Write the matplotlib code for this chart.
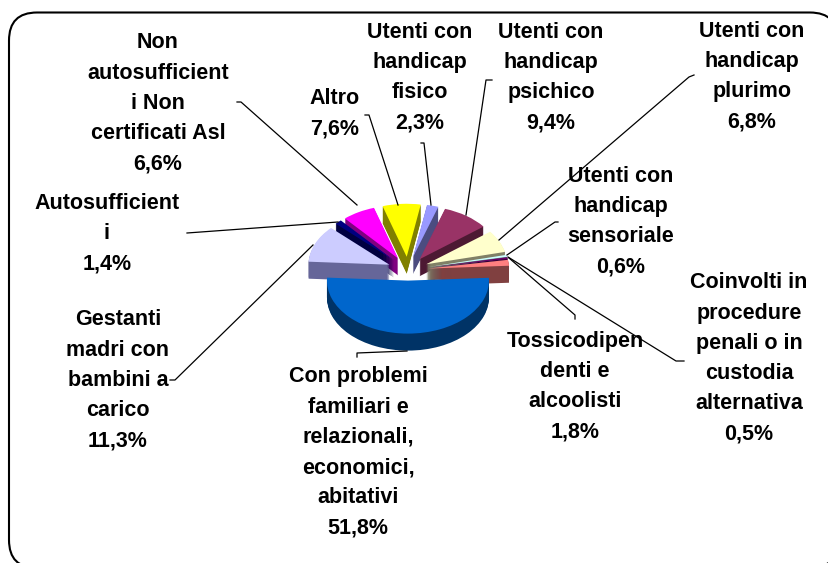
import matplotlib
matplotlib.use("Agg")
import matplotlib.pyplot as plt
from matplotlib.patches import FancyBboxPatch

labels = [
    "Utenti con\nhandicap\nfisico\n2,3%",
    "Utenti con\nhandicap\npsichico\n9,4%",
    "Utenti con\nhandicap\nplurimo\n6,8%",
    "Utenti con\nhandicap\nsensoriale\n0,6%",
    "Coinvolti in\nprocedure\npenali o in\ncustodia\nalternativa\n0,5%",
    "Tossicodipen\ndenti e\nalcoolisti\n1,8%",
    "Con problemi\nfamiliari e\nrelazionali,\neconomici,\nabitativi\n51,8%",
    "Gestanti\nmadri con\nbambini a\ncarico\n11,3%",
    "Autosufficient\ni\n1,4%",
    "Non\nautosufficient\ni Non\ncertificati Asl\n6,6%",
    "Altro\n7,6%",
]
values = [2.3, 9.4, 6.8, 0.6, 0.5, 1.8, 51.8, 11.3, 1.4, 6.6, 7.6]
top_colors = ["#9999FF", "#993366", "#FFFFCC", "#CCFFFF", "#660066", "#FF8080",
              "#0066CC", "#CCCCFF", "#000080", "#FF00FF", "#FFFF00"]
side_colors = ["#4C4C80", "#4D1933", "#808066", "#668080", "#330033", "#804040",
               "#003366", "#666699", "#000040", "#800080", "#808000"]
explode = [0.25, 0.25, 0.25, 0.25, 0.25, 0.25, 0.2, 0.25, 0.25, 0.25, 0.25]

# label centres in pixels
label_xy = [(420, 76), (551, 76), (752, 75), (621, 220), (749, 357), (575, 385),
            (358, 451), (118, 379), (107, 232), (158, 102), (335, 112)]
# leader lines in pixels
leaders = [
    [(421, 143), (424, 143), (431, 205)],
    [(492, 80), (486, 80), (466, 215)],
    [(694, 75), (689, 77), (499, 240)],
    [(558, 222), (555, 222), (507, 255)],
    [(684, 361), (676, 361), (508, 257)],
    [(575, 319), (575, 315), (509, 258)],
    [(357, 357), (357, 353), (407, 351)],
    [(170, 380), (175, 380), (313, 245)],
    [(187, 233), (338, 222)],
    [(237, 102), (241, 102), (357, 205)],
    [(365, 115), (369, 115), (398, 205)],
]

W, H = 829, 563
fig = plt.figure(figsize=(W / 100, H / 100), dpi=100)

# background axes in pixel coordinates
bg = fig.add_axes([0, 0, 1, 1])
bg.set_xlim(0, W)
bg.set_ylim(H, 0)
bg.axis("off")
bg.add_patch(FancyBboxPatch((9 + 28, 12.5 + 28), 838 - 9 - 56, 568 - 12.5 - 56,
                            boxstyle="round,pad=28,rounding_size=28",
                            fc="white", ec="black", lw=1.5))

# squashed pie: a 2x2 unit box mapped to rx by ry pixels
cx, cy, rx, ry, depth = 408, 270, 81, 53, 17
pie_ax = fig.add_axes([0, 0, 1, 1], zorder=2)
pie_ax.patch.set_alpha(0)
for d in list(range(depth, 0, -1)) + [0]:
    cols = side_colors if d > 0 else top_colors
    pie_ax.pie(values, explode=explode, colors=cols, startangle=80, counterclock=False,
               radius=1, center=(0, -d / ry), wedgeprops={"linewidth": 0})
pie_ax.set_aspect("auto")
pie_ax.set_xlim(-cx / rx, (W - cx) / rx)
pie_ax.set_ylim(-(H - cy) / ry, cy / ry)
pie_ax.axis("off")

# leaders and labels go on top
fg = fig.add_axes([0, 0, 1, 1], zorder=3)
fg.patch.set_alpha(0)
fg.set_xlim(0, W)
fg.set_ylim(H, 0)
fg.axis("off")
for pts in leaders:
    fg.plot([p[0] for p in pts], [p[1] for p in pts], color="black", lw=0.9)

# one text per line so the pitch stays at the reference's 30 px
pitch = 30.3
for (x, y), txt in zip(label_xy, labels):
    lines = txt.split("\n")
    for i, line in enumerate(lines):
        fg.text(x, y + (i - (len(lines) - 1) / 2) * pitch + 7, line, ha="center", va="baseline",
                family="Liberation Sans", weight="bold", fontsize=15.5, color="black")

fig.savefig("out.png", dpi=100)
